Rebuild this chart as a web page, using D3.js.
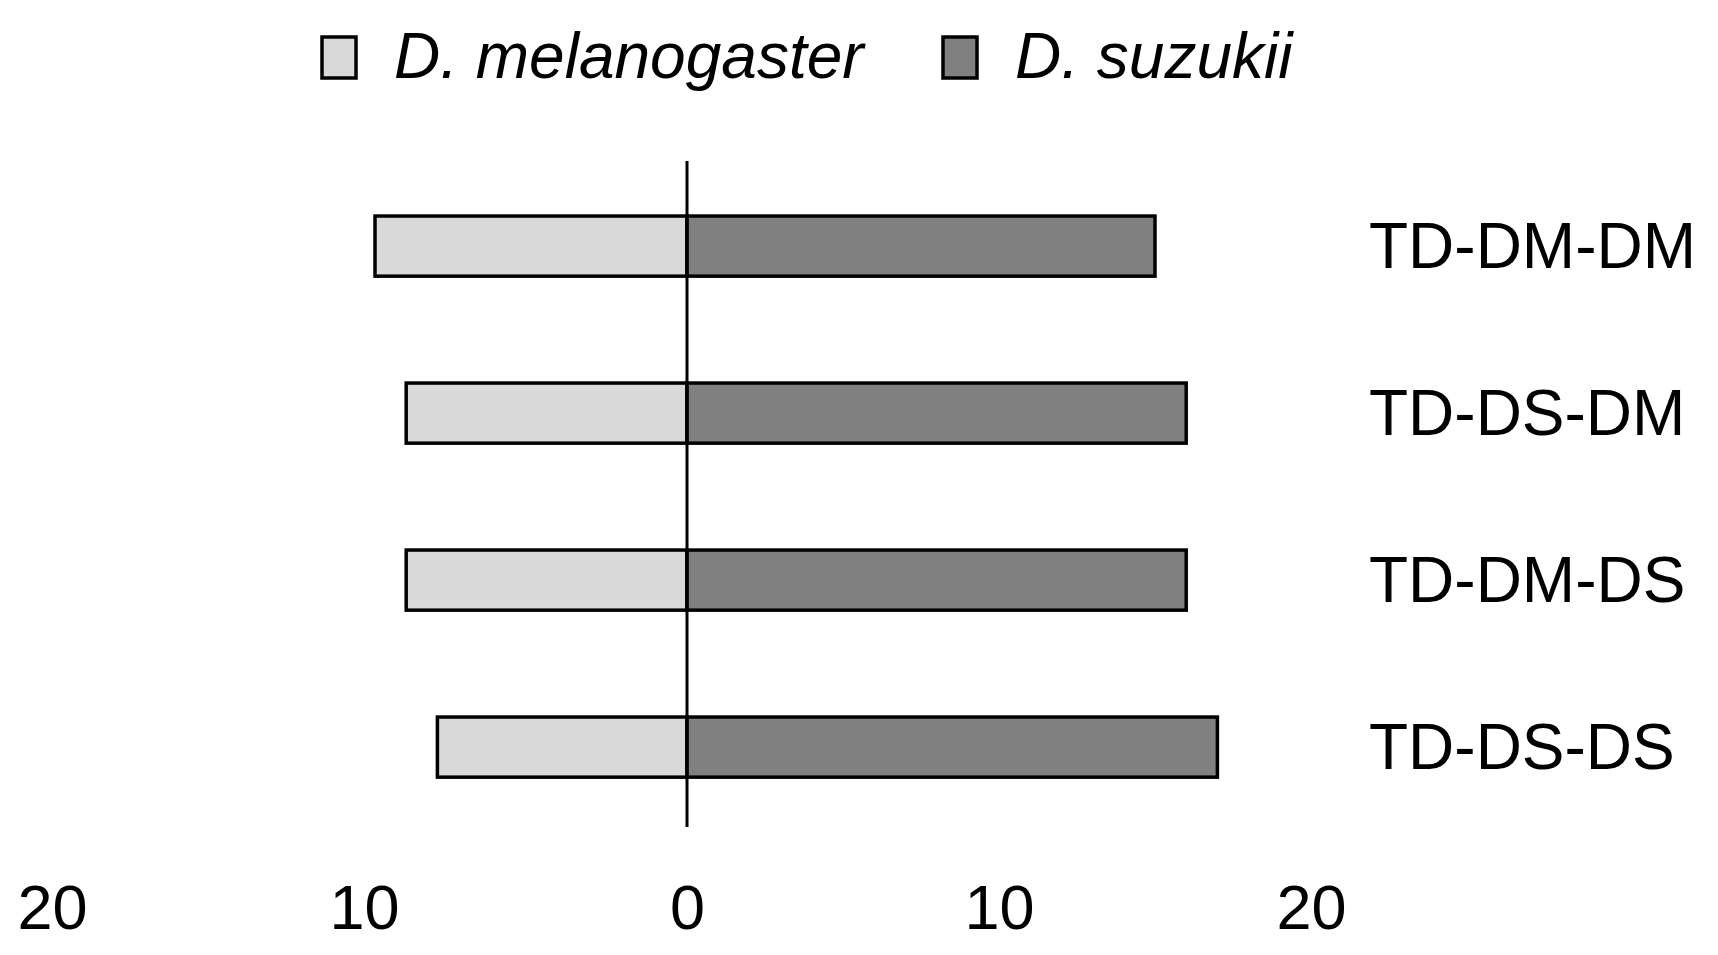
<!DOCTYPE html>
<html>
<head>
<meta charset="utf-8">
<script src="https://cdn.jsdelivr.net/npm/d3@7"></script>
<style>
  html, body { margin: 0; padding: 0; background: #fff; }
  svg { display: block; }
  text { font-family: "Liberation Sans", Arial, sans-serif; fill: #000; }
</style>
</head>
<body>
<script>
const categories = ["TD-DM-DM", "TD-DS-DM", "TD-DM-DS", "TD-DS-DS"];
const melanogaster = [10, 9, 9, 8];
const suzukii = [15, 16, 16, 17];
const tickValues = [-20, -10, 0, 10, 20];
const seriesNames = ["D. melanogaster", "D. suzukii"];
const seriesColors = ["#d9d9d9", "#808080"];

const W = 1718, H = 955;
const svg = d3.select("body").append("svg").attr("width", W).attr("height", H);
svg.append("rect").attr("width", W).attr("height", H).attr("fill", "#fff");

const x = d3.scaleLinear().domain([-20, 20]).range([63, 1311]);
const y = d3.scaleBand().domain(categories).range([162.6, 830.6])
  .paddingInner(0.64).paddingOuter(0.32);

const rows = categories.map((c, i) => ({ c, m: melanogaster[i], s: suzukii[i] }));

svg.append("g").selectAll("rect").data(rows).join("rect")
  .attr("x", d => x(-d.m)).attr("width", d => x(0) - x(-d.m))
  .attr("y", d => y(d.c)).attr("height", y.bandwidth())
  .attr("fill", seriesColors[0]).attr("stroke", "#000").attr("stroke-width", 3.5);

svg.append("g").selectAll("rect").data(rows).join("rect")
  .attr("x", x(0)).attr("width", d => x(d.s) - x(0))
  .attr("y", d => y(d.c)).attr("height", y.bandwidth())
  .attr("fill", seriesColors[1]).attr("stroke", "#000").attr("stroke-width", 3.5);

// zero line
svg.append("line")
  .attr("x1", x(0)).attr("x2", x(0))
  .attr("y1", 161).attr("y2", 827)
  .attr("stroke", "#000").attr("stroke-width", 3);

// category labels
svg.append("g").selectAll("text").data(categories).join("text")
  .attr("x", 1369)
  .attr("y", d => y(d) + y.bandwidth() / 2 + 22)
  .attr("font-size", 64)
  .text(d => d);

// x axis tick labels (absolute values)
const xAxis = d3.axisBottom(x).tickValues(tickValues)
  .tickFormat(d => Math.abs(d)).tickSize(0).tickPadding(0);
const gx = svg.append("g").attr("transform", "translate(0,929)").call(xAxis);
gx.select(".domain").remove();
gx.selectAll("text")
  .attr("font-size", 63).attr("font-family", "Liberation Sans, Arial, sans-serif")
  .attr("fill", "#000").attr("dy", 0).attr("y", 0)
  .attr("dx", d => d < 0 ? -11 : 0);

// legend
const legendX = [322, 943];
const legend = svg.append("g").selectAll("g").data(seriesNames).join("g")
  .attr("transform", (d, i) => `translate(${legendX[i]},0)`);
legend.append("rect")
  .attr("x", 0).attr("y", 37).attr("width", 34).attr("height", 41)
  .attr("fill", (d, i) => seriesColors[i]).attr("stroke", "#000").attr("stroke-width", 3.5);
legend.append("text")
  .attr("x", 72).attr("y", 78)
  .attr("font-size", 64).attr("font-style", "italic")
  .text(d => d);
</script>
</body>
</html>
